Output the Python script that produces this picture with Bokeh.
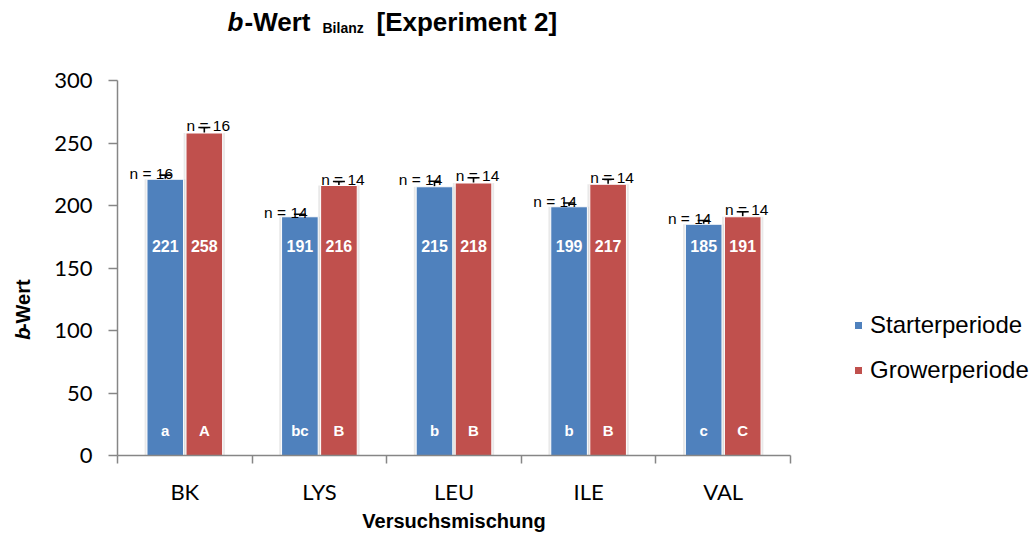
import numpy as np
from bokeh.plotting import figure
from bokeh.layouts import column, row
from bokeh.models import (Range1d, FixedTicker, ColumnDataSource, Whisker,
                          Legend, LegendItem, TeeHead)
from bokeh.embed import file_html
from bokeh.resources import INLINE
from bokeh.core.properties import value

# ---- data ----
categories = ["BK", "LYS", "LEU", "ILE", "VAL"]
series_names = ["Starterperiode", "Growerperiode"]
starter = [221, 191, 215, 199, 185]
grower = [258, 216, 218, 217, 191]
starter_err = [3.3, 2.0, 4.4, 3.0, 3.0]
grower_err = [4.4, 3.2, 4.2, 4.0, 4.0]
starter_n = [16, 14, 14, 14, 14]
grower_n = [16, 14, 14, 14, 14]
starter_letters = ["a", "bc", "b", "b", "c"]
grower_letters = ["A", "B", "B", "B", "C"]
y_ticks = [0, 50, 100, 150, 200, 250, 300]
title_parts = ["b", "-Wert", "Bilanz", "[Experiment 2]"]
ylabel_parts = ["b", "-Wert"]

BLUE = "#4F81BD"
RED = "#C0504D"
AXIS = "#868686"
ARIAL = "Liberation Sans"
CAL = "Lato"

TITLE_H = 66
ROW_H = 470
YLAB_W = 48
MAIN_W = 752
LEG_W = 230


def blank_fig(w, h):
    f = figure(width=w, height=h, x_range=Range1d(0, w), y_range=Range1d(0, h),
               output_backend="svg", toolbar_location=None, title=None,
               x_axis_type=None, y_axis_type=None, min_border=0)
    f.outline_line_color = None
    f.xgrid.visible = False
    f.ygrid.visible = False
    return f


# ---- title figure ----
tf = blank_fig(YLAB_W + MAIN_W + LEG_W, TITLE_H)
tb = TITLE_H - 21
tf.text(x=[227], y=[tb], text=[title_parts[0]], text_font=value(ARIAL),
        text_font_style="bold italic", text_font_size="26px",
        text_align="left", text_baseline="alphabetic", text_color="black")
tf.text(x=[244], y=[tb], text=[title_parts[1]], text_font=value(ARIAL),
        text_font_style="bold", text_font_size="26px",
        text_align="left", text_baseline="alphabetic", text_color="black")
tf.text(x=[322], y=[tb - 6], text=[title_parts[2]], text_font=value(ARIAL),
        text_font_style="bold", text_font_size="14px",
        text_align="left", text_baseline="alphabetic", text_color="black")
tf.text(x=[376], y=[tb], text=[title_parts[3]], text_font=value(ARIAL),
        text_font_style="bold", text_font_size="26px",
        text_align="left", text_baseline="alphabetic", text_color="black")

# ---- y label figure ----
yf = blank_fig(YLAB_W, ROW_H)
yb = ROW_H - (343 - TITLE_H) - 48
yf.text(x=[22], y=[yb], text=[ylabel_parts[0]], angle=np.pi / 2,
        text_font=value(ARIAL), text_font_style="bold italic", text_font_size="20px",
        text_align="left", text_baseline="middle", text_color="black")
yf.text(x=[22], y=[yb + 12.2], text=[ylabel_parts[1]], angle=np.pi / 2,
        text_font=value(ARIAL), text_font_style="bold", text_font_size="20px",
        text_align="left", text_baseline="middle", text_color="black")

# ---- main figure ----
W = 0.272
OFF = 0.145
idx = np.arange(len(categories))


def make_src(vals, errs, ns, letters, off):
    vals = np.array(vals, dtype=float)
    errs = np.array(errs, dtype=float)
    return ColumnDataSource(dict(
        x=idx + 0.5 + off,
        top=vals,
        upper=vals + errs,
        lower=vals - errs,
        label=[str(v) for v in vals.astype(int)],
        ntext=["n = %d" % n for n in ns],
        letter=letters,
        lab_y=[168] * len(vals),
        let_y=[20] * len(vals),
    ))


src_s = make_src(starter, starter_err, starter_n, starter_letters, -OFF)
src_g = make_src(grower, grower_err, grower_n, grower_letters, OFF)

p = figure(width=MAIN_W, height=ROW_H, x_range=Range1d(0, 5), y_range=Range1d(0, 300),
           output_backend="svg", toolbar_location=None, title=None,
           min_border_left=69, min_border_top=14, min_border_bottom=81,
           min_border_right=10)
p.outline_line_color = None
p.xgrid.visible = False
p.ygrid.visible = False

# soft shadows behind bars
for src in (src_s, src_g):
    p.vbar(x="x", top="top", bottom=-1.5, width=W + 0.035, source=src,
           fill_color="#bfbfbf", fill_alpha=0.35, line_color=None)

rs = p.vbar(x="x", top="top", width=W, source=src_s, fill_color=BLUE,
            line_color="white", line_width=1)
rg = p.vbar(x="x", top="top", width=W, source=src_g, fill_color=RED,
            line_color="white", line_width=1)

for src in (src_s, src_g):
    wk = Whisker(base="x", upper="upper", lower="lower", source=src,
                 line_color="black", line_width=1.6,
                 upper_head=TeeHead(size=12, line_color="black", line_width=1.6),
                 lower_head=TeeHead(size=12, line_color="black", line_width=1.6))
    p.add_layout(wk)

for src, xo in ((src_s, -14), (src_g, 4)):
    p.text(x="x", y="upper", text="ntext", source=src, x_offset=xo, y_offset=-2,
           text_align="center", text_baseline="alphabetic",
           text_font=value(ARIAL), text_font_size="15.5px", text_color="black")
    p.text(x="x", y="lab_y", text="label", source=src,
           text_align="center", text_baseline="middle", text_font_style="bold",
           text_font=value(ARIAL), text_font_size="16px", text_color="white")
    p.text(x="x", y="let_y", text="letter", source=src,
           text_align="center", text_baseline="middle", text_font_style="bold",
           text_font=value(ARIAL), text_font_size="15px", text_color="white")

xa = p.xaxis[0]
xa.ticker = FixedTicker(ticks=list(idx + 0.5), minor_ticks=list(range(len(categories) + 1)))
xa.major_label_overrides = {float(i + 0.5): c for i, c in enumerate(categories)}
xa.major_tick_line_color = None
xa.major_tick_out = 8
xa.major_tick_in = 0
xa.minor_tick_line_color = AXIS
xa.minor_tick_line_width = 1.5
xa.minor_tick_out = 8
xa.minor_tick_in = 0
xa.axis_line_color = AXIS
xa.axis_line_width = 1.5
xa.major_label_text_font = CAL
xa.major_label_text_font_size = "22px"
xa.major_label_text_color = "black"
xa.major_label_standoff = 14
xa.axis_label = "Versuchsmischung"
xa.axis_label_text_font = ARIAL
xa.axis_label_text_font_style = "bold"
xa.axis_label_text_font_size = "20px"
xa.axis_label_text_color = "black"
xa.axis_label_standoff = 2

ya = p.yaxis[0]
ya.ticker = FixedTicker(ticks=y_ticks, minor_ticks=[])
ya.major_tick_line_color = AXIS
ya.major_tick_line_width = 1.5
ya.major_tick_out = 9
ya.major_tick_in = 0
ya.minor_tick_line_color = None
ya.axis_line_color = AXIS
ya.axis_line_width = 1.5
ya.major_label_text_font = CAL
ya.major_label_text_font_size = "22px"
ya.major_label_text_color = "black"
ya.major_label_standoff = 16

# ---- legend figure (hidden proxy renderers carry the legend glyphs) ----
lf = blank_fig(LEG_W, ROW_H)
ls = lf.vbar(x="x", top="top", width=W, source=src_s, fill_color=BLUE,
             line_color="white", line_width=1, visible=False)
lg = lf.vbar(x="x", top="top", width=W, source=src_g, fill_color=RED,
             line_color="white", line_width=1, visible=False)
legend = Legend(items=[LegendItem(label=series_names[0], renderers=[ls]),
                       LegendItem(label=series_names[1], renderers=[lg])],
                location=(53, 71), orientation="vertical")
legend.margin = 0
legend.padding = 0
legend.border_line_color = None
legend.background_fill_alpha = 0
legend.inactive_fill_alpha = 0
legend.glyph_width = 10
legend.glyph_height = 10
legend.label_height = 26
legend.spacing = 17
legend.label_standoff = 7
legend.label_text_font = ARIAL
legend.label_text_font_size = "24px"
legend.label_text_color = "black"
lf.add_layout(legend)

layout = column(tf, row(yf, p, lf))
open("out.html", "w").write(file_html(layout, INLINE))
